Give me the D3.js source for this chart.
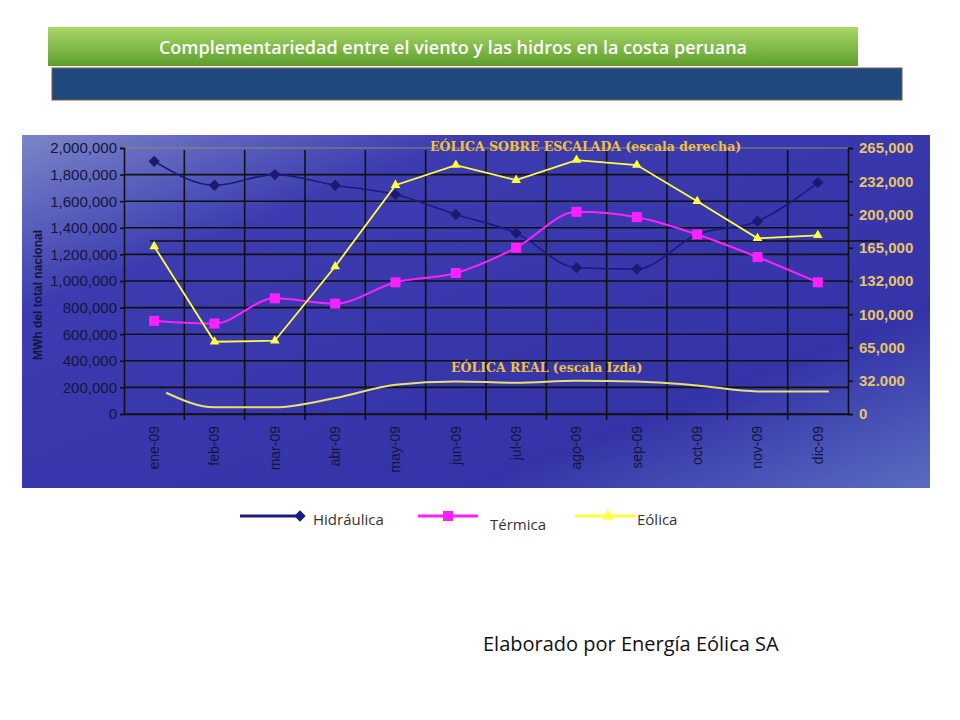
<!DOCTYPE html><html><head><meta charset="utf-8"><script src="https://cdn.jsdelivr.net/npm/d3@7"></script>
<style>body{margin:0;background:#fff}svg{display:block}</style></head><body><svg id="c" width="960" height="720"></svg>
<script>
const months=["ene-09","feb-09","mar-09","abr-09","may-09","jun-09","jul-09","ago-09","sep-09","oct-09","nov-09","dic-09"];
const hidraulica=[1900000,1720000,1800000,1720000,1650000,1500000,1360000,1100000,1090000,1350000,1450000,1740000];
const termica=[700000,680000,870000,830000,990000,1060000,1250000,1520000,1480000,1350000,1180000,990000];
const eolicaEscalada=[167000,72000,73000,147000,228000,248000,233000,253000,248000,212000,175000,178000];
const eolicaReal=[160000,50000,50000,120000,220000,245000,235000,250000,245000,215000,170000,170000];
const leftTicks=[0,200000,400000,600000,800000,1000000,1200000,1400000,1600000,1800000,2000000];
const rightTickLabels=["0","32.000","65,000","100,000","132,000","165,000","200,000","232,000","265,000"];
const legendItems=["Hidráulica","Térmica","Eólica"];

const svg=d3.select("#c");
const defs=svg.append("defs");
const g1=defs.append("linearGradient").attr("id","tg").attr("x1",0).attr("y1",0).attr("x2",0).attr("y2",1);
g1.append("stop").attr("offset",0).attr("stop-color","#a8d868");g1.append("stop").attr("offset",1).attr("stop-color","#5e9e2c");
const g2=defs.append("linearGradient").attr("id","bg").attr("x1",0).attr("y1",0).attr("x2",1).attr("y2",1);
g2.append("stop").attr("offset",0).attr("stop-color","#7a86c8");g2.append("stop").attr("offset",0.25).attr("stop-color","#3c3cb0");
g2.append("stop").attr("offset",0.75).attr("stop-color","#3434a8");g2.append("stop").attr("offset",1).attr("stop-color","#5a6cc0");

svg.append("rect").attr("x",52).attr("y",68).attr("width",850).attr("height",32).attr("fill","#1f497d").attr("stroke","#7f5f3f").attr("stroke-width",1);
svg.append("rect").attr("x",48).attr("y",27).attr("width",810).attr("height",39).attr("fill","url(#tg)");
svg.append("text").attr("x",453).attr("y",54).attr("text-anchor","middle").attr("fill","#fff").attr("font-family","Open Sans, sans-serif").attr("font-weight",600).attr("font-size",18).text("Complementariedad entre el viento y las hidros en la costa peruana");

svg.append("rect").attr("x",22).attr("y",135).attr("width",908).attr("height",353).attr("fill","url(#bg)");

const x=d3.scaleBand().domain(months).range([124,848]);
const cx=m=>x(m)+x.bandwidth()/2;
const y=d3.scaleLinear().domain([0,2000000]).range([414,148]);
const yr=d3.scaleLinear().domain([0,265000]).range([414,148]);
const yrPos=d3.scaleLinear().domain([0,rightTickLabels.length-1]).range([414,148]);

svg.append("g").selectAll("line").data(leftTicks.slice(0,-1)).join("line")
 .attr("x1",124).attr("x2",848).attr("y1",d=>y(d)).attr("y2",d=>y(d)).attr("stroke","#111").attr("stroke-width",1.6);
svg.append("line").attr("x1",124).attr("x2",848).attr("y1",y(2000000)).attr("y2",y(2000000)).attr("stroke","#8a8a70").attr("stroke-width",1.2);
svg.append("line").attr("x1",150).attr("x2",880).attr("y1",241).attr("y2",241).attr("stroke","#111").attr("stroke-width",1.6);
svg.append("g").selectAll("line").data(months.slice(1)).join("line")
 .attr("x1",d=>x(d)).attr("x2",d=>x(d)).attr("y1",150).attr("y2",420).attr("stroke","#111").attr("stroke-width",1.6);

const la=svg.append("g").attr("transform","translate(124,0)").call(d3.axisLeft(y).tickValues(leftTicks).tickFormat(d3.format(",")).tickSize(4));
la.selectAll("text").attr("fill","#15153a").attr("font-family","Liberation Sans, Arial").attr("font-size",15);
la.selectAll("line,path").attr("stroke","#111").attr("stroke-width",1.6);
const ra=svg.append("g").attr("transform","translate(848,0)").call(d3.axisRight(yrPos).ticks(8).tickFormat((d,i)=>rightTickLabels[i]).tickSize(5));
ra.selectAll("text").attr("fill","#e8c468").attr("font-family","Liberation Sans, Arial").attr("font-size",15).attr("font-weight","bold").attr("dx",3);
ra.selectAll("line,path").attr("stroke","#111").attr("stroke-width",1.6);
const xa=svg.append("g").attr("transform","translate(0,414)").call(d3.axisBottom(x).tickSize(0));
xa.select("path").attr("stroke","#111").attr("stroke-width",1.6);
xa.selectAll("text").attr("transform","rotate(-90)").attr("text-anchor","end").attr("x",-12).attr("y",0).attr("dy","0.35em")
 .attr("fill","#15153a").attr("font-family","Liberation Sans, Arial").attr("font-size",14);
svg.append("text").attr("transform","translate(42,295) rotate(-90)").attr("text-anchor","middle").attr("fill","#15153a")
 .attr("font-family","Liberation Sans, Arial").attr("font-size",12).attr("font-weight","bold").text("MWh del total nacional");

const ann=(t,xx,yy)=>svg.append("text").attr("x",xx).attr("y",yy).attr("fill","#f0c040").attr("font-family","DejaVu Serif, serif").attr("font-weight","bold").attr("font-size",12.5).text(t);
ann("EÓLICA SOBRE ESCALADA (escala derecha)",430,151);
ann("EÓLICA REAL (escala Izda)",451,372);

const lineL=d3.line().x((d,i)=>cx(months[i])).y(d=>y(d)).curve(d3.curveMonotoneX);
const lineR=d3.line().x((d,i)=>cx(months[i])).y(d=>yr(d));
svg.append("path").attr("d",d3.line().x((d,i)=>cx(months[i])+(i==0?12:i==11?11:0)).y(d=>y(d)).curve(d3.curveMonotoneX)(eolicaReal)).attr("fill","none").attr("stroke","#e8e070").attr("stroke-width",2);
svg.append("path").attr("d",lineL(hidraulica)).attr("fill","none").attr("stroke","#1a1a80").attr("stroke-width",1.6);
svg.append("g").selectAll("rect").data(hidraulica).join("rect").attr("x",-4).attr("y",-4).attr("width",8).attr("height",8)
 .attr("transform",(d,i)=>`translate(${cx(months[i])},${y(d)}) rotate(45)`).attr("fill","#1a1a70");
svg.append("path").attr("d",lineL(termica)).attr("fill","none").attr("stroke","#ff20ff").attr("stroke-width",2);
svg.append("g").selectAll("rect").data(termica).join("rect").attr("x",(d,i)=>cx(months[i])-5).attr("y",d=>y(d)-5).attr("width",10).attr("height",10).attr("fill","#ff20ff");
svg.append("path").attr("d",lineR(eolicaEscalada)).attr("fill","none").attr("stroke","#ffff40").attr("stroke-width",1.8);
svg.append("g").selectAll("path").data(eolicaEscalada).join("path").attr("d",d3.symbol(d3.symbolTriangle,40)())
 .attr("transform",(d,i)=>`translate(${cx(months[i])},${yr(d)})`).attr("fill","#ffff40");

const lg=[{x:240,c:"#1a1a80",s:"d",tx:313,ty:525},{x:418,c:"#ff20ff",s:"s",tx:490,ty:530},{x:575,c:"#ffff40",s:"t",tx:637,ty:525}];
lg.forEach((o,i)=>{
 svg.append("line").attr("x1",o.x).attr("x2",o.x+60).attr("y1",516).attr("y2",516).attr("stroke",o.c).attr("stroke-width",3);
 const mx=o.x+(i==0?60:i==1?30:33);
 if(o.s=="s")svg.append("rect").attr("x",mx-5).attr("y",511).attr("width",10).attr("height",10).attr("fill",o.c);
 else if(o.s=="d")svg.append("rect").attr("x",-4).attr("y",-4).attr("width",8).attr("height",8).attr("transform",`translate(${mx},516) rotate(45)`).attr("fill",o.c);
 else svg.append("path").attr("d",d3.symbol(d3.symbolTriangle,60)()).attr("transform",`translate(${mx},516)`).attr("fill",o.c);
 svg.append("text").attr("x",o.tx).attr("y",o.ty).attr("fill","#333").attr("font-family","Open Sans, sans-serif").attr("font-size",15).text(legendItems[i]);
});
svg.append("text").attr("x",483).attr("y",651).attr("fill","#111").attr("font-family","Open Sans, sans-serif").attr("font-size",20).text("Elaborado por Energía Eólica SA");
</script></body></html>
